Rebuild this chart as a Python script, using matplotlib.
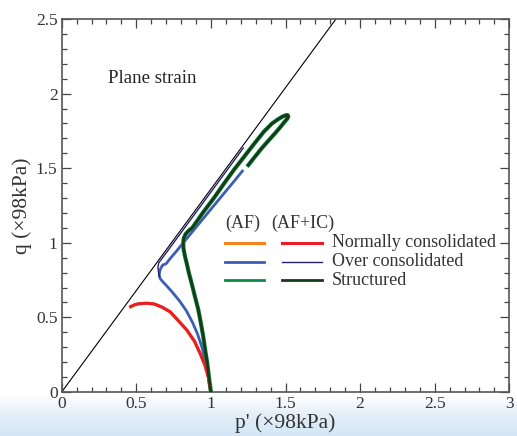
import numpy as np
import matplotlib
matplotlib.use('Agg')
import matplotlib.pyplot as plt
from matplotlib.colors import LinearSegmentedColormap

plt.rcParams['font.family'] = ['Liberation Serif', 'DejaVu Serif']

# critical state line slope
M = 1.36
csl_p = [0.0, 2.5 / M]
csl_q = [0.0, 2.5]

# normally consolidated (AF+IC drawn on top, AF hidden underneath)
nc_p = [1.0, 0.995, 0.983, 0.96, 0.927, 0.89, 0.838, 0.78, 0.726, 0.67, 0.62, 0.57, 0.52, 0.49, 0.462]
nc_q = [0.0, 0.03, 0.10, 0.18, 0.26, 0.34, 0.416, 0.48, 0.538, 0.57, 0.59, 0.595, 0.592, 0.585, 0.572]

# over consolidated, AF
oc_p = [1.0, 0.993, 0.985, 0.965, 0.94, 0.91, 0.875, 0.835, 0.79, 0.745, 0.705, 0.675, 0.66, 0.654,
        0.655, 0.662, 0.676, 0.70, 0.726, 0.77, 0.815, 0.87, 0.93, 1.0, 1.07, 1.145, 1.217]
oc_q = [0.0, 0.05, 0.10, 0.20, 0.30, 0.39, 0.47, 0.545, 0.61, 0.665, 0.71, 0.742, 0.76, 0.778,
        0.80, 0.825, 0.85, 0.86, 0.893, 0.945, 1.0, 1.067, 1.14, 1.225, 1.31, 1.40, 1.488]

# over consolidated, AF+IC
ocic_p = [0.656, 0.649, 0.645, 0.65, 0.70, 0.80, 0.90, 1.0, 1.10, 1.217]
ocic_q = [0.775, 0.80, 0.835, 0.865, 0.932, 1.068, 1.204, 1.34, 1.476, 1.635]

# structured
st_p = [1.0, 0.993, 0.976, 0.962, 0.949, 0.933, 0.916, 0.893, 0.871, 0.852, 0.838, 0.825,
        0.816, 0.815, 0.818, 0.83, 0.85, 0.875, 0.945, 1.02, 1.09, 1.155, 1.225, 1.295, 1.355,
        1.41, 1.45, 1.48, 1.502, 1.514, 1.519, 1.512, 1.495, 1.465, 1.43, 1.385, 1.34, 1.295, 1.251]
st_q = [0.0, 0.05, 0.19, 0.28, 0.37, 0.46, 0.55, 0.64, 0.728, 0.80, 0.862, 0.915,
        0.963, 1.0, 1.03, 1.058, 1.08, 1.10, 1.20, 1.30, 1.40, 1.49, 1.58, 1.67, 1.745,
        1.80, 1.828, 1.846, 1.855, 1.856, 1.847, 1.832, 1.812, 1.775, 1.734, 1.684, 1.633, 1.577, 1.521]

xticks = [0, 0.5, 1, 1.5, 2, 2.5, 3]
yticks = [0, 0.5, 1, 1.5, 2, 2.5]

c_orange = '#f5821f'
c_red = '#ec1c24'
c_blue = '#3d5db5'
c_navy = '#22226e'
c_green = '#0f8a45'
c_dkgreen = '#143c17'

fig = plt.figure(figsize=(5.17, 4.36), dpi=100)

# light blue band at the bottom of the picture
bg = fig.add_axes([0, 0, 1, 0.095], zorder=-5)
cmap = LinearSegmentedColormap.from_list('band', ['#ffffff', '#e4eff9', '#d3e6f6'])
bg.imshow(np.linspace(0, 1, 50).reshape(-1, 1), aspect='auto', cmap=cmap, extent=[0, 1, 0, 1])
bg.axis('off')

ax = fig.add_axes([61.7 / 517, 1 - 392 / 436, 447.6 / 517, 373 / 436])
ax.patch.set_alpha(0)

ax.plot(csl_p, csl_q, color='black', lw=0.8, zorder=2)
ax.plot(nc_p, nc_q, color=c_orange, lw=2.2, zorder=3)
ax.plot(nc_p, nc_q, color=c_red, lw=2.2, zorder=4)
ax.plot(oc_p, oc_q, color=c_blue, lw=2.0, zorder=3, solid_capstyle='butt')
ax.plot(ocic_p, ocic_q, color=c_navy, lw=1.0, zorder=4)
ax.plot(st_p, st_q, color=c_green, lw=3.0, zorder=3)
ax.plot(st_p, st_q, color=c_dkgreen, lw=2.0, zorder=4)

ax.set_xlim(0, 3)
ax.set_ylim(0, 2.5)
ax.set_xticks(xticks)
ax.set_yticks(yticks)
ax.set_xticklabels(['0', '0.5', '1', '1.5', '2', '2.5', '3'])
ax.set_yticklabels(['0', '0.5', '1', '1.5', '2', '2.5'])
ax.set_xticks(np.arange(0, 3.01, 0.1), minor=True)
ax.set_yticks(np.arange(0, 2.51, 0.1), minor=True)
ax.tick_params(which='both', direction='in', top=True, right=True, color='#444444',
               labelcolor='#333333', labelsize=12.5, width=0.9, pad=3)
ax.tick_params(which='major', length=6.5)
ax.tick_params(which='minor', length=3.5)
for s in ax.spines.values():
    s.set_color('#555555')
    s.set_linewidth(1.2)

ax.set_xlabel("p' (×98kPa)", fontsize=15.5, color='#333333', labelpad=0.5)
ax.set_ylabel("q (×98kPa)", fontsize=15.5, color='#333333', labelpad=3)

ax.text(0.1035, 0.84, 'Plane strain', transform=ax.transAxes, fontsize=13.5,
        color='#222222', va='center', ha='left')

# legend, two columns of line samples
tr = ax.transAxes
ax.text(0.365, 0.452, '(AF)', transform=tr, fontsize=13, color='#333333', va='center')
ax.text(0.469, 0.452, '(AF+IC)', transform=tr, fontsize=13, color='#333333', va='center')
rows = [
    ('Normally consolidated', c_orange, 2.2, c_red, 2.2),
    ('Over consolidated', c_blue, 2.0, c_navy, 1.0),
    ('Structured', c_green, 2.0, c_dkgreen, 2.0),
]
ys = [0.400, 0.349, 0.2995]
for (label, ca, wa, cb, wb), yy in zip(rows, ys):
    ax.plot([0.365, 0.452], [yy, yy], transform=tr, color=ca, lw=wa, zorder=5)
    ax.plot([0.4915, 0.581], [yy, yy], transform=tr, color=cb, lw=wb, zorder=5)
    ax.text(0.603, yy, label, transform=tr, fontsize=13, color='#333333', va='center')

fig.savefig('out.png', dpi=100)
